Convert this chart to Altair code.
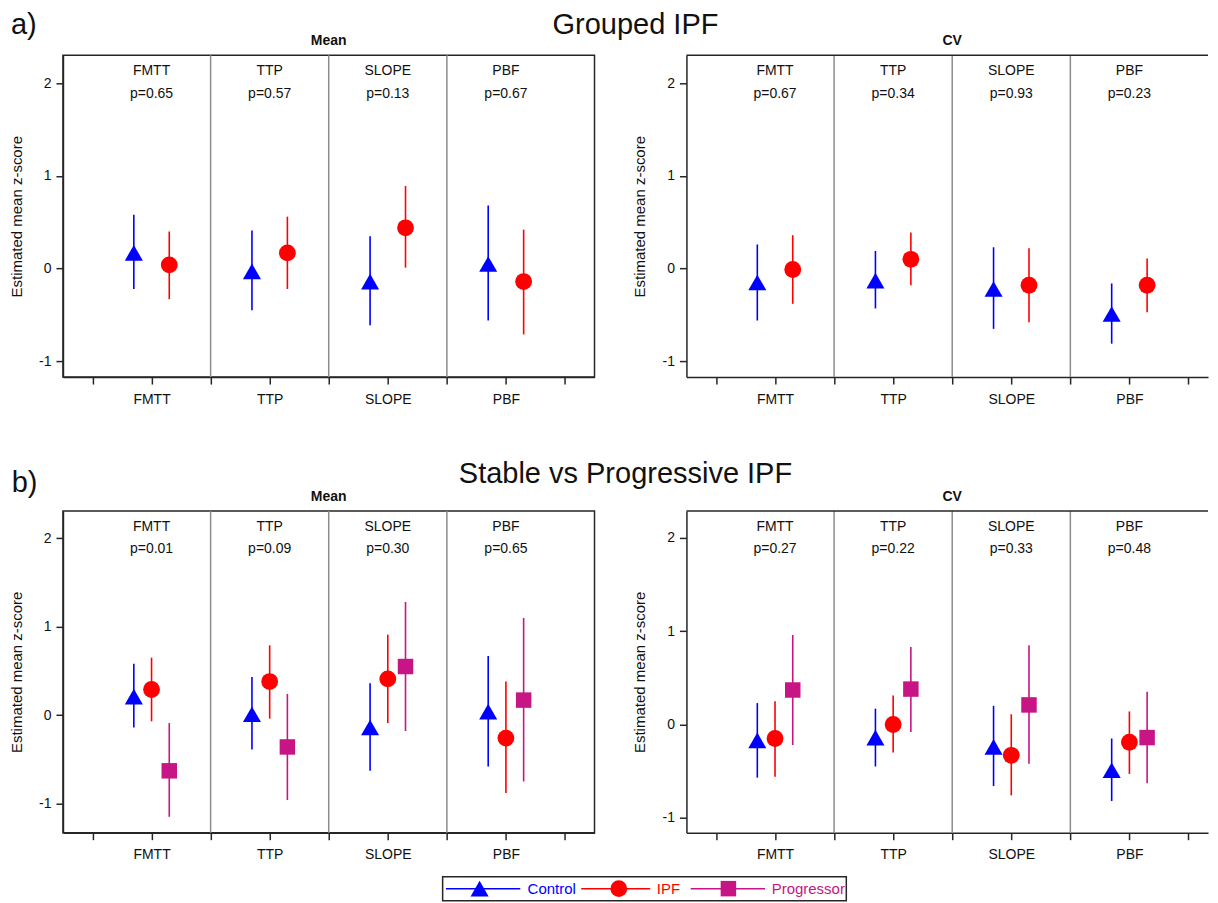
import altair as alt
import pandas as pd

# ---------------- data ----------------
categories = ["FMTT", "TTP", "SLOPE", "PBF"]
groups = ["Control", "IPF", "Progressor"]
group_colors = ["#0000FF", "#FF0000", "#C71585"]
group_shapes = ["triangle-up", "circle", "square"]
row_letters = ["a)", "b)"]
row_titles = ["Grouped IPF", "Stable vs Progressive IPF"]
panel_titles = ["Mean", "CV"]
y_tick_values = [-1, 0, 1, 2]
y_title = "Estimated mean z-score"

# p-values per panel
a_mean_p = ["0.65", "0.57", "0.13", "0.67"]
a_cv_p = ["0.67", "0.34", "0.93", "0.23"]
b_mean_p = ["0.01", "0.09", "0.30", "0.65"]
b_cv_p = ["0.27", "0.22", "0.33", "0.48"]

# a) Grouped IPF - Mean
a_mean_control_est = [0.17, -0.03, -0.14, 0.05]
a_mean_control_lo = [-0.22, -0.45, -0.61, -0.56]
a_mean_control_hi = [0.58, 0.41, 0.35, 0.68]
a_mean_ipf_est = [0.04, 0.17, 0.44, -0.14]
a_mean_ipf_lo = [-0.33, -0.22, 0.01, -0.71]
a_mean_ipf_hi = [0.40, 0.56, 0.89, 0.42]

# a) Grouped IPF - CV
a_cv_control_est = [-0.15, -0.13, -0.22, -0.49]
a_cv_control_lo = [-0.56, -0.43, -0.65, -0.81]
a_cv_control_hi = [0.26, 0.19, 0.23, -0.16]
a_cv_ipf_est = [-0.01, 0.10, -0.18, -0.18]
a_cv_ipf_lo = [-0.38, -0.18, -0.58, -0.47]
a_cv_ipf_hi = [0.36, 0.39, 0.22, 0.11]

# b) Stable vs Progressive - Mean
b_mean_control_est = [0.21, 0.01, -0.14, 0.04]
b_mean_control_lo = [-0.14, -0.39, -0.63, -0.58]
b_mean_control_hi = [0.58, 0.43, 0.36, 0.67]
b_mean_ipf_est = [0.29, 0.38, 0.41, -0.26]
b_mean_ipf_lo = [-0.07, -0.04, -0.09, -0.88]
b_mean_ipf_hi = [0.65, 0.79, 0.91, 0.38]
b_mean_prog_est = [-0.63, -0.36, 0.55, 0.17]
b_mean_prog_lo = [-1.15, -0.96, -0.18, -0.75]
b_mean_prog_hi = [-0.09, 0.24, 1.28, 1.10]

# b) Stable vs Progressive - CV
b_cv_control_est = [-0.17, -0.14, -0.24, -0.49]
b_cv_control_lo = [-0.57, -0.45, -0.66, -0.82]
b_cv_control_hi = [0.23, 0.17, 0.20, -0.15]
b_cv_ipf_est = [-0.15, 0.00, -0.33, -0.19]
b_cv_ipf_lo = [-0.56, -0.30, -0.76, -0.53]
b_cv_ipf_hi = [0.25, 0.31, 0.11, 0.14]
b_cv_prog_est = [0.37, 0.38, 0.21, -0.14]
b_cv_prog_lo = [-0.22, -0.08, -0.42, -0.63]
b_cv_prog_hi = [0.96, 0.83, 0.85, 0.35]

# ---------------- style / layout ----------------
FONT = "Liberation Sans"
AX = "#262626"
TXT = "#111111"
PANEL_H = 322
MEAN_W = 532
CV_W = 522                    # the CV panels run off the right edge in the original
UNIT = MEAN_W / 9.0
MEAN_X_DOMAIN = [-0.5, 8.5]
CV_X_DOMAIN = [-0.5, -0.5 + CV_W / UNIT]
TITLE_X = MEAN_W / 2
OFFSETS_2 = {"Control": -0.3, "IPF": 0.3}
OFFSETS_3 = {"Control": -0.3, "IPF": 0.0, "Progressor": 0.3}
PLOT_SIZES = [326, 240, 272]
LEGEND_SIZES = [300, 289, 289]

color_scale = alt.Scale(domain=groups, range=group_colors)
shape_scale = alt.Scale(domain=groups, range=group_shapes)
plot_size_scale = alt.Scale(domain=groups, range=PLOT_SIZES)
legend_size_scale = alt.Scale(domain=groups, range=LEGEND_SIZES)

label_expr = "".join(
    f"datum.value == {2 * i + 1} ? '{c}' : " for i, c in enumerate(categories)
) + "''"


def build_df(series, offsets):
    rows = []
    for g, (est, lo, hi) in series.items():
        for i, c in enumerate(categories):
            rows.append(dict(group=g, cat=c, x=2 * i + 1 + offsets[g],
                             est=est[i], lo=lo[i], hi=hi[i]))
    return pd.DataFrame(rows)


def const_text(text, x, y, size, align="center", baseline="middle", weight="normal"):
    return alt.Chart(pd.DataFrame({"t": [text]})).mark_text(
        fontSize=size, align=align, baseline=baseline, font=FONT, color=TXT,
        fontWeight=weight
    ).encode(x=alt.value(x), y=alt.value(y), text="t:N")


def make_panel(df, pvals, title, ydom, xdom, width, open_right=False, extra_layers=()):
    xs = alt.Scale(domain=xdom, nice=False, zero=False)
    ys = alt.Scale(domain=ydom, nice=False, zero=False)
    xaxis = alt.Axis(values=list(range(9)), labelExpr=label_expr, title=None,
                     grid=False, tickSize=7, tickWidth=1.5, tickColor=AX,
                     domainColor=AX, domainWidth=1.5, labelPadding=8,
                     labelFontSize=14, labelColor=TXT, labelOverlap=False,
                     labelFlush=False, labelFont=FONT)
    yaxis = alt.Axis(values=y_tick_values, title=y_title, grid=False,
                     tickSize=7, tickWidth=1.5, tickColor=AX, domainColor=AX,
                     domainWidth=1.5, labelPadding=5, labelFontSize=14,
                     labelColor=TXT, labelFont=FONT, labelFlush=False,
                     labelExpr="datum.value < 0 ? '-' + abs(datum.value) : '' + datum.value",
                     titleFontSize=15, titleFontWeight="normal",
                     titleColor=TXT, titleFont=FONT, titlePadding=14.5)
    sep_df = pd.DataFrame({"pos": [2 * (i + 1) for i in range(len(categories) - 1)]})
    seps = alt.Chart(sep_df).mark_rule(color="#8c8c8c", strokeWidth=1.5).encode(
        x=alt.X("pos:Q", scale=xs, axis=xaxis))
    bars = alt.Chart(df).mark_rule(strokeWidth=1.6).encode(
        x=alt.X("x:Q", scale=xs, axis=xaxis),
        y=alt.Y("lo:Q", scale=ys, axis=yaxis),
        y2="hi:Q",
        color=alt.Color("group:N", scale=color_scale, legend=None))
    pts = alt.Chart(df).mark_point(filled=True, opacity=1, strokeWidth=0).encode(
        x=alt.X("x:Q", scale=xs, axis=xaxis),
        y=alt.Y("est:Q", scale=ys, axis=yaxis),
        color=alt.Color("group:N", scale=color_scale, legend=None),
        shape=alt.Shape("group:N", scale=shape_scale, legend=None),
        size=alt.Size("group:N", scale=plot_size_scale, legend=None))
    lab_df = pd.DataFrame({"cat": categories,
                           "xc": [2 * i + 1 for i in range(len(categories))],
                           "ptxt": ["p=" + p for p in pvals]})
    cat_text = alt.Chart(lab_df).mark_text(fontSize=14, baseline="middle", color=TXT, font=FONT).encode(
        x=alt.X("xc:Q", scale=xs, axis=xaxis), y=alt.value(16), text="cat:N")
    p_text = alt.Chart(lab_df).mark_text(fontSize=14, baseline="middle", color=TXT, font=FONT).encode(
        x=alt.X("xc:Q", scale=xs, axis=xaxis), y=alt.value(38.5), text="ptxt:N")
    layers = [seps, bars, pts, cat_text, p_text,
              const_text(title, TITLE_X, -14, 14, weight="bold")]
    view = alt.ViewBackground(stroke=AX, strokeWidth=1.5)
    if open_right:
        top_border = alt.Chart(pd.DataFrame({"b": [0]})).mark_rule(
            color=AX, strokeWidth=1.5).encode(
            x=alt.value(0), x2=alt.value(width), y=alt.value(0))
        layers.append(top_border)
        view = alt.ViewBackground(stroke="transparent")
    main = alt.layer(*layers)
    if extra_layers:
        main = alt.layer(main, *extra_layers).resolve_scale(x="independent")
    return main.properties(width=width, height=PANEL_H, view=view)


a_mean_df = build_df({
    "Control": (a_mean_control_est, a_mean_control_lo, a_mean_control_hi),
    "IPF": (a_mean_ipf_est, a_mean_ipf_lo, a_mean_ipf_hi)}, OFFSETS_2)
a_cv_df = build_df({
    "Control": (a_cv_control_est, a_cv_control_lo, a_cv_control_hi),
    "IPF": (a_cv_ipf_est, a_cv_ipf_lo, a_cv_ipf_hi)}, OFFSETS_2)
b_mean_df = build_df({
    "Control": (b_mean_control_est, b_mean_control_lo, b_mean_control_hi),
    "IPF": (b_mean_ipf_est, b_mean_ipf_lo, b_mean_ipf_hi),
    "Progressor": (b_mean_prog_est, b_mean_prog_lo, b_mean_prog_hi)}, OFFSETS_3)
b_cv_df = build_df({
    "Control": (b_cv_control_est, b_cv_control_lo, b_cv_control_hi),
    "IPF": (b_cv_ipf_est, b_cv_ipf_lo, b_cv_ipf_hi),
    "Progressor": (b_cv_prog_est, b_cv_prog_lo, b_cv_prog_hi)}, OFFSETS_3)

# ---------------- custom legend (drawn below the b) Mean panel) ----------------
LEG_LEFT, LEG_TOP = 380, 366
LEG_W, LEG_H = 404, 24
LEG_LINE_START = [3.3, 138.7, 248.3]
LEG_LINE_END = [77.7, 207.7, 322.7]
LEG_SYMBOL_X = [37, 176.3, 286]
LEG_TEXT_X = [85, 214.3, 329.3]
leg_df = pd.DataFrame({"group": groups, "x1": LEG_LINE_START, "x2": LEG_LINE_END,
                       "xs": LEG_SYMBOL_X, "xt": LEG_TEXT_X})
lx = alt.Scale(domain=[0, LEG_W], range=[LEG_LEFT, LEG_LEFT + LEG_W], nice=False, zero=False)
leg_y = alt.value(LEG_TOP + LEG_H / 2)
leg_box = alt.Chart(pd.DataFrame({"b": [0]})).mark_rect(
    fill="white", stroke=AX, strokeWidth=1.5).encode(
    x=alt.value(LEG_LEFT), x2=alt.value(LEG_LEFT + LEG_W),
    y=alt.value(LEG_TOP), y2=alt.value(LEG_TOP + LEG_H))
leg_lines = alt.Chart(leg_df).mark_rule(strokeWidth=1.5).encode(
    x=alt.X("x1:Q", scale=lx, axis=None), x2="x2:Q", y=leg_y,
    color=alt.Color("group:N", scale=color_scale, legend=None))
leg_syms = alt.Chart(leg_df).mark_point(filled=True, opacity=1, strokeWidth=0).encode(
    x=alt.X("xs:Q", scale=lx, axis=None), y=leg_y,
    color=alt.Color("group:N", scale=color_scale, legend=None),
    shape=alt.Shape("group:N", scale=shape_scale, legend=None),
    size=alt.Size("group:N", scale=legend_size_scale, legend=None))
leg_text = alt.Chart(leg_df).mark_text(align="left", baseline="middle", fontSize=15, font=FONT).encode(
    x=alt.X("xt:Q", scale=lx, axis=None), y=leg_y, text="group:N",
    color=alt.Color("group:N", scale=color_scale, legend=None))
legend = alt.layer(leg_box, leg_lines, leg_syms, leg_text)

a_mean = make_panel(a_mean_df, a_mean_p, panel_titles[0], [-1.17, 2.30],
                    MEAN_X_DOMAIN, MEAN_W,
                    extra_layers=[const_text(row_letters[0], -52, -21.3, 29, "left", "alphabetic"),
                                  const_text(row_titles[0], 573, -21.6, 29, "center", "alphabetic")])
a_cv = make_panel(a_cv_df, a_cv_p, panel_titles[1], [-1.17, 2.30],
                  CV_X_DOMAIN, CV_W, open_right=True)
b_mean = make_panel(b_mean_df, b_mean_p, panel_titles[0], [-1.33, 2.31],
                    MEAN_X_DOMAIN, MEAN_W,
                    extra_layers=[const_text(row_letters[1], -51.3, -19.3, 29, "left", "alphabetic"),
                                  const_text(row_titles[1], 563, -27.6, 29, "center", "alphabetic"),
                                  legend])
b_cv = make_panel(b_cv_df, b_cv_p, panel_titles[1], [-1.16, 2.29],
                  CV_X_DOMAIN, CV_W, open_right=True)

chart = alt.concat(
    a_mean, a_cv, b_mean, b_cv, columns=2,
    spacing={"row": 134, "column": 92}, bounds="flush"
).properties(
    padding={"left": 0, "top": 1, "right": 0, "bottom": 0}
).configure(font=FONT)

chart.save("out.html", embed_options={"renderer": "svg", "actions": False})
